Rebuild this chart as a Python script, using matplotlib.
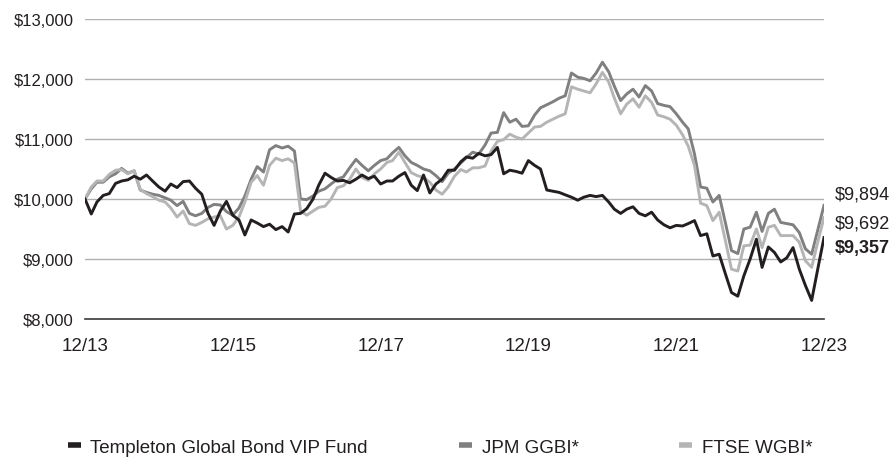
import numpy as np
import pandas as pd
import matplotlib
matplotlib.use("Agg")
import matplotlib.pyplot as plt
import matplotlib.dates as mdates
from matplotlib.lines import Line2D

plt.rcParams['font.family'] = ['Liberation Sans', 'DejaVu Sans']

# monthly values of a $10,000 investment, 12/13 - 12/23
dates = pd.date_range('2013-12-31', periods=121, freq='ME')

fund = [
    10000, 9750, 9950, 10060, 10090, 10260, 10300, 10320, 10380, 10330,
    10400, 10300, 10200, 10130, 10250, 10190, 10290, 10300, 10180, 10080,
    9760, 9560, 9800, 9960, 9730, 9650, 9400, 9650, 9600, 9540,
    9580, 9490, 9540, 9450, 9750, 9760, 9840, 10000, 10230, 10430,
    10360, 10300, 10310, 10270, 10330, 10400, 10340, 10380, 10250, 10300,
    10300, 10380, 10440, 10230, 10140, 10400, 10100, 10250, 10330, 10480,
    10480, 10620, 10700, 10680, 10760, 10720, 10740, 10860, 10420, 10480,
    10460, 10430, 10640, 10560, 10500, 10150, 10130, 10110, 10070, 10030,
    9980, 10030, 10060, 10040, 10060, 9950, 9830, 9760, 9830, 9870,
    9760, 9720, 9780, 9650, 9570, 9520, 9560, 9550, 9590, 9640,
    9390, 9420, 9050, 9080, 8750, 8440, 8380, 8720, 9000, 9330,
    8860, 9200, 9110, 8950, 9020, 9190, 8830, 8560, 8310, 8830,
    9357]

jpm = [
    10000, 10170, 10280, 10280, 10370, 10420, 10510, 10430, 10470, 10150,
    10110, 10080, 10060, 10020, 9980, 9890, 9960, 9760, 9720, 9760,
    9860, 9910, 9900, 9790, 9730, 9850, 10050, 10330, 10540, 10450,
    10820, 10890, 10850, 10880, 10800, 10000, 9990, 10050, 10130, 10170,
    10250, 10330, 10370, 10520, 10660, 10560, 10470, 10560, 10640, 10670,
    10770, 10860, 10720, 10610, 10560, 10500, 10470, 10390, 10290, 10430,
    10500, 10600, 10690, 10780, 10750, 10900, 11100, 11110, 11440, 11280,
    11330, 11210, 11220, 11400, 11520, 11570, 11620, 11680, 11720, 12100,
    12030, 12010, 11970, 12100, 12280, 12120, 11880, 11640, 11750, 11830,
    11700, 11890, 11800, 11590, 11560, 11540, 11420, 11280, 11170, 10750,
    10200, 10180, 9950, 10060, 9600, 9140, 9090, 9500, 9530, 9780,
    9460, 9760, 9830, 9610, 9590, 9570, 9440, 9170, 9080, 9480,
    9894]

ftse = [
    10000, 10200, 10300, 10300, 10410, 10480, 10490, 10420, 10470, 10160,
    10090, 10040, 9980, 9950, 9850, 9700, 9800, 9590, 9560, 9610,
    9670, 9700, 9720, 9500, 9560, 9700, 9950, 10280, 10390, 10230,
    10560, 10680, 10640, 10670, 10600, 9800, 9730, 9800, 9860, 9880,
    10000, 10190, 10220, 10330, 10500, 10360, 10310, 10420, 10500, 10610,
    10640, 10780, 10610, 10440, 10390, 10360, 10280, 10150, 10080, 10200,
    10380, 10490, 10450, 10520, 10520, 10550, 10800, 10960, 10990, 11080,
    11030, 11000, 11100, 11200, 11210, 11280, 11330, 11380, 11420, 11870,
    11830, 11800, 11770, 11920, 12110, 11950, 11680, 11420, 11580, 11670,
    11530, 11720, 11610, 11400, 11370, 11330, 11230, 11070, 10880, 10560,
    9930, 9890, 9640, 9780, 9300, 8830, 8800, 9220, 9230, 9500,
    9190, 9530, 9560, 9390, 9390, 9390, 9280, 8970, 8860, 9280,
    9692]

names = ['Templeton Global Bond VIP Fund', 'JPM GGBI*', 'FTSE WGBI*']
colors = ['#231f20', '#808080', '#b5b5b5']
end_labels = ['$9,357', '$9,894', '$9,692']

fig = plt.figure(figsize=(8.92, 4.77), dpi=100)
ax = fig.add_axes([85 / 892, 1 - 320 / 477, (824 - 85) / 892, 300 / 477])

lw = 2.1
ax.plot(dates, jpm, color=colors[1], lw=lw, zorder=3)
ax.plot(dates, ftse, color=colors[2], lw=lw, zorder=4)
ax.plot(dates, fund, color=colors[0], lw=lw, zorder=5)

ax.set_xlim(dates[0], dates[-1])
ax.set_ylim(8000, 13000)
ax.set_yticks(np.arange(8000, 13001, 1000))
ax.yaxis.set_major_formatter(plt.FuncFormatter(lambda v, p: f'${v:,.0f}'))
ax.set_xticks(dates[::24])
ax.xaxis.set_major_formatter(mdates.DateFormatter('%m/%y'))

ax.grid(axis='y', color='#b0b0b0', lw=1.0, zorder=0)
for s in ['left', 'right', 'top']:
    ax.spines[s].set_visible(False)
ax.spines['bottom'].set_color('#3a3a3a')
ax.spines['bottom'].set_linewidth(1.2)
ax.tick_params(axis='both', length=0, colors='#231f20')
ax.tick_params(axis='y', pad=8, labelsize=12)
ax.tick_params(axis='x', pad=13, labelsize=13.5)

# end-of-period values
ax.annotate(end_labels[1], (dates[-1], jpm[-1]), xytext=(8, 8), textcoords='offset points',
            ha='left', va='center', fontsize=13, color='#231f20')
ax.annotate(end_labels[2], (dates[-1], ftse[-1]), xytext=(8, -4), textcoords='offset points',
            ha='left', va='center', fontsize=13, color='#231f20')
ax.annotate(end_labels[0], (dates[-1], fund[-1]), xytext=(8, -7), textcoords='offset points',
            ha='left', va='center', fontsize=13, color='#231f20', fontweight='bold')

# legend, three separate entries
legend_x = [68, 459, 679]
for name, c, lx in zip(names, colors, legend_x):
    h = Line2D([], [], color=c, lw=4, solid_capstyle='butt')
    lg = fig.legend([h], [name], loc='center left', bbox_to_anchor=(lx / 892, 1 - 448 / 477),
                    frameon=False, fontsize=13.5, handlelength=0.7, handletextpad=0.5,
                    borderpad=0, borderaxespad=0)
    for t in lg.get_texts():
        t.set_color('#231f20')

fig.savefig('out.png', dpi=100)
